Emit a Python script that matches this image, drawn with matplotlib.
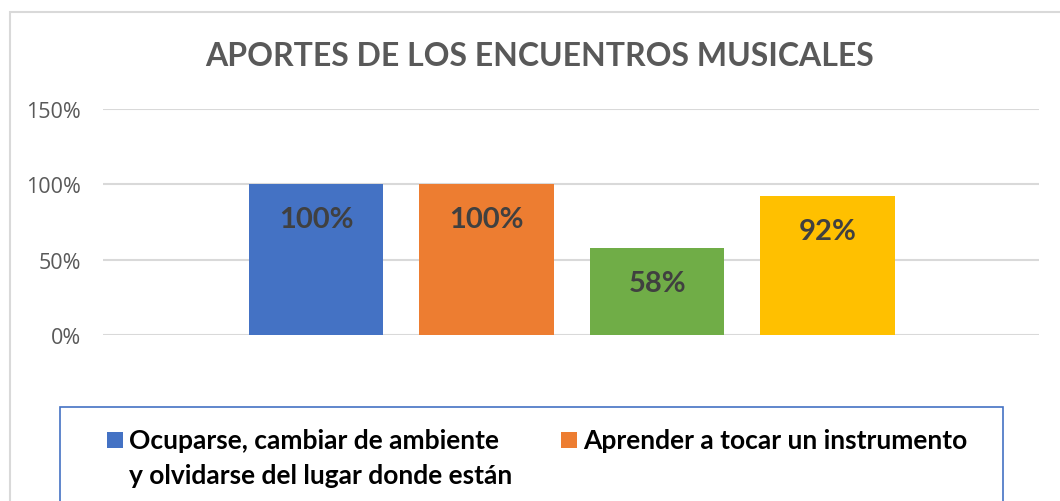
import matplotlib
matplotlib.use("Agg")
import matplotlib.pyplot as plt
from matplotlib.patches import Rectangle
import numpy as np

# datos del gráfico
titulo = "APORTES DE LOS ENCUENTROS MUSICALES"
series = ["Ocuparse, cambiar de ambiente\ny olvidarse del lugar donde están",
          "Aprender a tocar un instrumento"]
valores = [1.00, 1.00, 0.58, 0.92]
colores = ["#4472C4", "#ED7D31", "#70AD47", "#FFC000"]
ticks_y = [0, 0.5, 1.0, 1.5]

W, H = 1060, 502
fig = plt.figure(figsize=(W / 100, H / 100), dpi=100)

# borde exterior del área del gráfico
fig.patches.append(Rectangle((10 / W, -0.1), 1.2, (H - 13) / H + 0.1,
                             transform=fig.transFigure, fill=False,
                             edgecolor="#D9D9D9", linewidth=1.5))

ax = fig.add_axes([103 / W, (H - 336) / H, (1039 - 103) / W, (336 - 110) / H])
x = np.arange(len(valores))
barras = ax.bar(x, valores, width=134 / 170, color=colores, zorder=2)
ax.set_xlim(-1.25, 4.24)
ax.set_ylim(0, 1.5)
ax.set_yticks(ticks_y)
ax.set_yticklabels([f"{int(round(t * 100))}%" for t in ticks_y],
                   fontsize=15.5, color="#595959", family="Open Sans")
ax.tick_params(axis="y", length=0, pad=16)
ax.set_xticks([])
for s in ax.spines.values():
    s.set_visible(False)
ax.grid(axis="y", color="#D9D9D9", linewidth=1.5, zorder=0)

for b, v in zip(barras, valores):
    ax.annotate(f"{int(round(v * 100))}%", (b.get_x() + b.get_width() / 2, v),
                xytext=(0, -35), textcoords="offset pixels",
                ha="center", va="center", fontsize=21, fontweight="bold",
                color="#404040", family="Lato")

fig.text(540 / W, (H - 56) / H, titulo, ha="center", va="center",
         fontsize=23, fontweight="bold", color="#595959", family="Lato")

# leyenda (la parte inferior queda fuera de la imagen)
fig.patches.append(Rectangle((60 / W, -0.1), (1003 - 60) / W, (H - 408) / H + 0.1,
                             transform=fig.transFigure, fill=False,
                             edgecolor="#4472C4", linewidth=1.2))
x_marca = [107, 561]
for nombre, color, xm in zip(series, colores, x_marca):
    fig.patches.append(Rectangle((xm / W, (H - 449) / H), 16 / W, 16 / H,
                                 transform=fig.transFigure, facecolor=color,
                                 edgecolor="none"))
    for j, linea in enumerate(nombre.split("\n")):
        fig.text((xm + 22) / W, (H - 449 - 35 * j) / H, linea, ha="left",
                 va="baseline", fontsize=19, fontweight="bold",
                 color="black", family="Lato")

fig.savefig("out.png", dpi=100)
